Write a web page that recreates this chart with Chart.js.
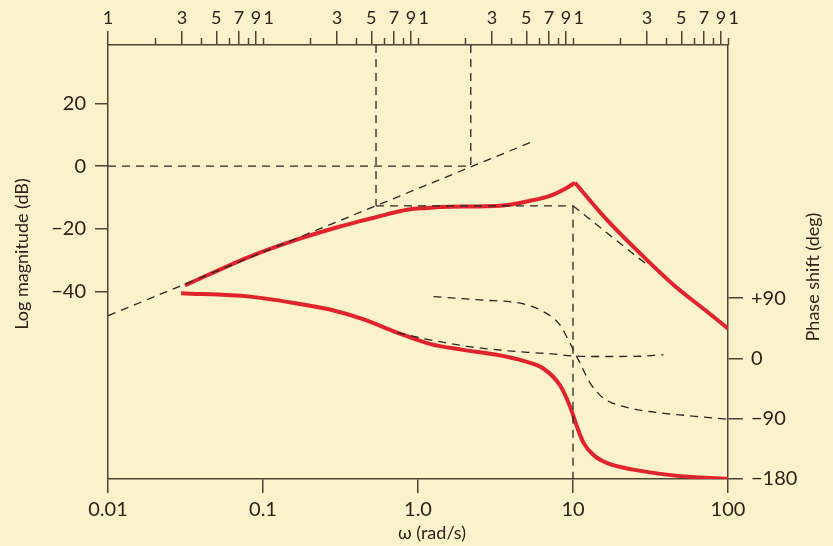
<!DOCTYPE html>
<html>
<head>
<meta charset="utf-8">
<script src="https://cdn.jsdelivr.net/npm/chart.js@4.4.1/dist/chart.umd.min.js"></script>
<style>
html,body{margin:0;padding:0;background:#faf2cb;}
canvas{display:block;}
</style>
</head>
<body>
<canvas id="c" width="833" height="546"></canvas>
<script>
// ---------- data ----------
// Magnitude (dB) – rising part up to the resonance peak
const magRiseOmega = [0.0314, 0.0824, 0.173, 0.314, 0.423, 0.569, 0.693, 0.89, 1.14, 1.39, 2.2, 3.38, 5.28, 7.11, 9.10, 10.3];
const magRiseDb    = [-38.1, -28.9, -23.2, -19.3, -17.6, -16.0, -14.9, -13.8, -13.4, -13.1, -12.9, -12.7, -11.1, -9.5, -7.0, -5.3];
// Magnitude (dB) – falling part after the peak
const magFallOmega = [10.3, 16.5, 27, 44.4, 72.8, 100];
const magFallDb    = [-5.3, -17.1, -27.8, -37.9, -46.4, -51.9];
// Phase (deg)
const phaseOmega = [0.0296, 0.0824, 0.173, 0.27, 0.442, 0.733, 1.19, 1.96, 3.22, 4.78, 6.43, 8.24, 9.57, 10.6, 11.7, 13.5, 16.5, 24.5, 44.4, 100];
const phaseDeg   = [97.4, 92.3, 81.4, 73, 58.6, 38.6, 21.8, 12.8, 5.4, -3.6, -15, -40, -71.7, -101.6, -126, -143.8, -156, -166, -174.6, -180];

// Dashed construction lines (magnitude axis)
const asymRiseOmega = [0.01, 5.28];   const asymRiseDb = [-47.8, 7.5];
const zeroDbOmega   = [0.01, 2.19];   const zeroDbDb   = [0, 0];
const vertAOmega    = [0.536, 0.536]; const vertADb    = [38.7, -12.7];
const vertBOmega    = [2.19, 2.19];   const vertBDb    = [38.7, 0];
const flatOmega     = [0.536, 10];    const flatDb     = [-12.7, -12.7];
const vertCOmega    = [10, 10];       const vertCDb    = [-12.7, -100];
const asymFallOmega = [10, 30];       const asymFallDb = [-12.7, -31.5];

// Dashed phase components (phase axis)
const phaseLowOmega  = [0.733, 1.11, 1.49, 2.11, 2.84, 3.83, 5.41, 7.29, 9.77, 13, 25, 38.3];
const phaseLowDeg    = [38.6, 29.2, 23.7, 17.8, 14.3, 11.3, 8.8, 6.9, 3.9, 2.9, 3, 5.4];
const phaseHighOmega = [1.26, 2.51, 4.78, 6.43, 8.24, 9.33, 10.05, 11.1, 12.9, 15.7, 21.1, 34.7, 56.9, 100];
const phaseHighDeg   = [92.3, 87.4, 81.4, 70, 50, 27.7, 12.8, -7, -36.8, -59.2, -71.7, -80.7, -85.6, -91];

// Ticks
const bottomTickValues = [0.01, 0.1, 1, 10, 100];
const bottomTickLabels = ['0.01', '0.1', '1.0', '10', '100'];
const leftTickValues = [-40, -20, 0, 20];
const leftTickLabels = ['\u221240', '\u221220', '0', '20'];
const rightTickValues = [-180, -90, 0, 90];
const rightTickLabels = ['\u2212180', '\u221290', '0', '+90'];
const topDecades = [0.01, 0.1, 1, 10];
const topMantissas = [1, 2, 3, 4, 5, 6, 7, 8, 9];
const topLabelledMantissas = [3, 5, 7, 9];

// ---------- style ----------
const BG = '#faf2cb';
const AXIS = '#4e4434';
const TEXT = '#2a2419';
const RED = '#e1232d';
const DASH = '#2a2520';
const FONT = 'Lato, "Open Sans", "DejaVu Sans", sans-serif';

// build top tick list
const topTickValues = [], topTickLabels = [], topTickKind = [];
topDecades.forEach((d, di) => {
  topMantissas.forEach(m => {
    const v = d * m;
    if (m === 1) {
      if (di === 0) { topTickValues.push(v); topTickLabels.push('1'); topTickKind.push('tall'); }
      else {
        topTickValues.push(v); topTickLabels.push(''); topTickKind.push('short');
        topTickValues.push(v * 1.09); topTickLabels.push('1'); topTickKind.push('label');
      }
    } else if (topLabelledMantissas.includes(m)) {
      topTickValues.push(v); topTickLabels.push(String(m)); topTickKind.push('tall');
    } else {
      topTickValues.push(v); topTickLabels.push(''); topTickKind.push('short');
    }
  });
});
topTickValues.push(100); topTickLabels.push(''); topTickKind.push('short');
topTickValues.push(109); topTickLabels.push('1'); topTickKind.push('label');

const zip = (xs, ys) => xs.map((x, i) => ({x: x, y: ys[i]}));

function redSet(xs, ys, axis) {
  return {data: zip(xs, ys), yAxisID: axis, borderColor: RED, borderWidth: 4,
          cubicInterpolationMode: 'monotone', pointRadius: 0, fill: false, borderCapStyle: 'butt'};
}
function dashSet(xs, ys, axis, smooth) {
  return {data: zip(xs, ys), yAxisID: axis, borderColor: DASH, borderWidth: 1.3, borderDash: [8, 6],
          cubicInterpolationMode: smooth ? 'monotone' : 'default', tension: 0, pointRadius: 0, fill: false};
}

const bgPlugin = {
  id: 'bg',
  beforeDraw(chart) {
    const c = chart.ctx; c.save(); c.fillStyle = BG; c.fillRect(0, 0, chart.width, chart.height); c.restore();
  }
};
const extrasPlugin = {
  id: 'extras',
  afterDraw(chart) {
    const c = chart.ctx;
    const s = chart.scales.x2;
    c.save();
    c.strokeStyle = AXIS; c.lineWidth = 1.5;
    topTickKind.forEach((k, i) => {
      if (k !== 'short') return;
      const x = Math.round(s.getPixelForValue(topTickValues[i])) + 0.5;
      c.beginPath(); c.moveTo(x, s.bottom); c.lineTo(x, s.bottom - 7); c.stroke();
    });
    c.fillStyle = TEXT;
    c.font = '18px ' + FONT;
    c.textAlign = 'center'; c.textBaseline = 'middle';
    c.save(); c.translate(22, 254); c.rotate(-Math.PI / 2); c.fillText('Log magnitude (dB)', 0, 0); c.restore();
    c.save(); c.translate(813, 277); c.rotate(-Math.PI / 2); c.fillText('Phase shift (deg)', 0, 0); c.restore();
    c.fillText('\u03c9 (rad/s)', 432, 533);
    c.restore();
  }
};

const tickFont = {family: FONT, size: 20};

new Chart(document.getElementById('c'), {
  type: 'line',
  data: {
    datasets: [
      dashSet(asymRiseOmega, asymRiseDb, 'y'),
      dashSet(zeroDbOmega, zeroDbDb, 'y'),
      dashSet(vertAOmega, vertADb, 'y'),
      dashSet(vertBOmega, vertBDb, 'y'),
      dashSet(flatOmega, flatDb, 'y'),
      dashSet(vertCOmega, vertCDb, 'y'),
      dashSet(asymFallOmega, asymFallDb, 'y'),
      dashSet(phaseLowOmega, phaseLowDeg, 'y2', true),
      dashSet(phaseHighOmega, phaseHighDeg, 'y2', true),
      redSet(magRiseOmega, magRiseDb, 'y'),
      redSet(magFallOmega, magFallDb, 'y'),
      redSet(phaseOmega, phaseDeg, 'y2')
    ]
  },
  options: {
    responsive: false, animation: false, events: [],
    layout: {padding: 0},
    plugins: {legend: {display: false}, tooltip: {enabled: false}},
    scales: {
      x: {
        type: 'logarithmic', position: 'bottom', min: 0.01, max: 100,
        afterBuildTicks: s => { s.ticks = bottomTickValues.map(v => ({value: v})); },
        afterFit: s => { s.height = 67; },
        ticks: {callback: (v, i) => bottomTickLabels[i], autoSkip: false, maxRotation: 0, minRotation: 0,
                color: TEXT, font: tickFont, padding: 5},
        grid: {drawOnChartArea: false, tickLength: 14, color: AXIS, lineWidth: 1.5},
        border: {display: true, color: AXIS, width: 1.5}
      },
      x2: {
        type: 'logarithmic', position: 'top', min: 0.01, max: 100,
        afterBuildTicks: s => { s.ticks = topTickValues.map(v => ({value: v})); },
        afterFit: s => { s.height = 45; },
        ticks: {callback: (v, i) => topTickLabels[i], autoSkip: false, maxRotation: 0, minRotation: 0,
                color: TEXT, font: {family: FONT, size: 18}, padding: 2},
        grid: {drawOnChartArea: false, tickLength: 14, lineWidth: 1.5,
               color: AXIS,
               tickColor: ctx => topTickKind[ctx.index] === 'tall' ? AXIS : 'rgba(0,0,0,0)'},
        border: {display: true, color: AXIS, width: 1.5}
      },
      y: {
        type: 'linear', position: 'left', min: -100, max: 38.7,
        afterBuildTicks: s => { s.ticks = leftTickValues.map(v => ({value: v})); },
        afterFit: s => { s.width = 108; },
        ticks: {callback: (v, i) => leftTickLabels[i], color: TEXT, font: tickFont, padding: 9},
        grid: {drawOnChartArea: false, tickLength: 13, color: AXIS, lineWidth: 1.5},
        border: {display: true, color: AXIS, width: 1.5}
      },
      y2: {
        type: 'linear', position: 'right', min: -180, max: 468,
        afterBuildTicks: s => { s.ticks = rightTickValues.map(v => ({value: v})); },
        afterFit: s => { s.width = 105; },
        ticks: {callback: (v, i) => rightTickLabels[i], color: TEXT, font: tickFont, padding: 8},
        grid: {drawOnChartArea: false, tickLength: 15, color: AXIS, lineWidth: 1.5},
        border: {display: true, color: AXIS, width: 1.5}
      }
    }
  },
  plugins: [bgPlugin, extrasPlugin]
});
</script>
</body>
</html>
